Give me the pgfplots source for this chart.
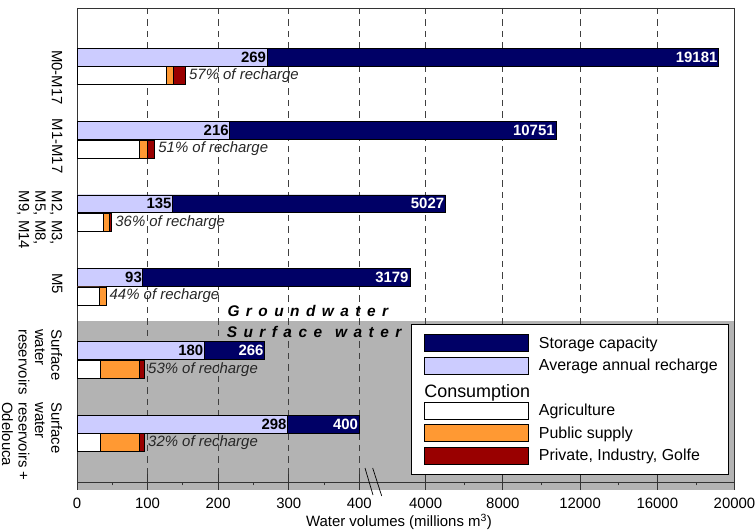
\documentclass[border=0pt]{standalone}
\usepackage{pgfplots}
\pgfplotsset{compat=1.18}
\usepackage{pgfplotstable}
\usepackage{fontspec}
\setmainfont{Liberation Sans}
\definecolor{navy}{RGB}{0,0,102}
\definecolor{lav}{RGB}{204,204,255}
\definecolor{orng}{RGB}{255,153,51}
\definecolor{dred}{RGB}{153,0,0}
\definecolor{bgray}{RGB}{179,179,179}
\newcommand\lsp{\hspace{6.45bp}}

% groundwater / surface water systems: storage capacity and average annual recharge (hm3)
\pgfplotstableread{
y stor rech
0 19181 269
1 10751 216
2 5027 135
3 3179 93
4 266 180
5 400 298
}\gw
% consumption: agriculture, public supply, private/industry/golf (hm3), percent of recharge
\pgfplotstableread{
y agri pub priv pct
0.255 126 10.5 17 57
1.255 88 11 11 51
2.255 37 9 3 36
3.255 31.6 9.3 0 44
4.255 33 55.4 7.1 53
5.255 33 55.4 7.1 32
}\cons

\pgfplotsset{
  legimg/.style={legend image code/.code={%
    \draw[##1, draw=black, line width=0.7bp] (0bp,-8.5bp) rectangle (104bp,8.5bp);
    \path[draw=none, fill=none] (-2bp,-11.25bp) rectangle (115bp,11.25bp);}},
  barbase/.style={xbar, bar width=0.245, bar shift=0pt, draw=black, line width=0.6bp, forget plot},
}

\begin{document}
\begin{tikzpicture}
\begin{axis}[
  set layers=standard,
  width=657.5bp, height=474bp, scale only axis,
  xmin=0, xmax=20000, ymin=-0.6676, ymax=5.790, y dir=reverse,
  x coord trafo/.code={\begingroup\pgfkeys{/pgf/fpu=true,/pgf/fpu/output format=fixed}\pgfmathparse{(#1<400.5) ? (#1) : (494.0+((#1)-4000)*0.02735)}\pgfmathsmuggle\pgfmathresult\endgroup},
  x coord inv trafo/.code={\begingroup\pgfkeys{/pgf/fpu=true,/pgf/fpu/output format=fixed}\pgfmathparse{(#1<400.5) ? (#1) : (4000+((#1)-494.0)/0.02735)}\pgfmathsmuggle\pgfmathresult\endgroup},
  xtick={0,100,200,300,400,4000,8000,12000,16000,20000},
  xticklabels={0,100,200,300,400,4000,8000,12000,16000,20000},
  minor xtick={50,150,250,350,6000,10000,14000,18000},
  xtick pos=bottom,
  tick align=center, major tick length=15bp, minor tick length=3.4bp,
  every minor tick/.append style={yshift=-1.7bp},
  xmajorgrids,
  major grid style={black!75, dash pattern=on 6.5bp off 5bp, line width=0.8bp},
  ytick={0.279,1.213,2.221,3.086,4.155,5.238},
  yticklabels={{M0-M17},{M1-M17},{M2, M3,\\M5, M8,\\M9, M14},{M5},{Surface\\water\\reservoirs},{Surface\\water\\reservoirs +\\Odelouca}},
  ytick style={draw=none},
  yticklabel style={rotate=-90, anchor=north, align=left, font=\fontsize{15}{16.5}\selectfont, inner sep=0pt},
  yticklabel shift=7bp,
  xticklabel style={font=\fontsize{15}{18}\selectfont, inner sep=0pt, anchor=north},
  xticklabel shift=8bp,
  xlabel={Water volumes (millions m\textsuperscript{3})},
  xlabel style={font=\fontsize{15}{18}\selectfont, at={(axis description cs:0.4897,0)}, anchor=north, inner sep=0pt, yshift=-32bp},
  axis line style={black!80, line width=0.9bp},
  every tick/.style={black!80, line width=0.8bp},
  legend style={at={(axis description cs:1,0)}, anchor=south east, xshift=-5.8bp, yshift=7.3bp,
    draw=black, line width=0.8bp, fill=white, inner xsep=10.6bp, inner ysep=7.4bp, row sep=0bp, column sep=0bp,
    font=\fontsize{16}{18}\selectfont, nodes={inner xsep=0bp, inner ysep=0bp}},
  legend cell align=left,
]
\begin{pgfonlayer}{axis background}
\fill[bgray] (axis cs:0,3.597) rectangle (axis cs:20000,5.9);
\end{pgfonlayer}

\addlegendimage{legimg, fill=navy}\addlegendentry{Storage capacity}
\addlegendimage{legimg, fill=lav}\addlegendentry{Average annual recharge}
\addlegendimage{legend image code/.code={%
  \path[draw=none, fill=none] (-2bp,-11.25bp) rectangle (115bp,11.25bp);
  \node[anchor=west, inner sep=0pt, draw=none, fill=none, text=black, font=\fontsize{18}{20}\selectfont] at (0bp,-3.9bp) {Consumption};}}\addlegendentry{}
\addlegendimage{legimg, fill=white}\addlegendentry{Agriculture}
\addlegendimage{legimg, fill=orng}\addlegendentry{Public supply}
\addlegendimage{legimg, fill=dred}\addlegendentry{Private, Industry, Golfe}

% storage capacity (dark) with recharge (light) on top
\addplot[barbase, fill=navy, point meta=explicit symbolic, nodes near coords,
  every node near coord/.append style={anchor=east, text=white, font=\bfseries\fontsize{15}{18}\selectfont, inner xsep=1bp}]
  table[x=stor, y=y, meta=stor]{\gw};
\addplot[barbase, fill=lav, point meta=explicit symbolic, nodes near coords,
  every node near coord/.append style={anchor=east, text=black, font=\bfseries\fontsize{15}{18}\selectfont, inner xsep=0.5bp}]
  table[x=rech, y=y, meta=rech]{\gw};

% consumption (segments overlaid: total, agriculture+public, agriculture)
\addplot[barbase, fill=dred, point meta=explicit symbolic, nodes near coords={\pgfplotspointmeta\% of recharge},
  every node near coord/.append style={anchor=west, text=black!85, font=\itshape\fontsize{15}{18}\selectfont, inner xsep=3.5bp}]
  table[x expr=\thisrow{agri}+\thisrow{pub}+\thisrow{priv}, y=y, meta=pct]{\cons};
\addplot[barbase, fill=orng] table[x expr=\thisrow{agri}+\thisrow{pub}, y=y]{\cons};
\addplot[barbase, fill=white] table[x=agri, y=y]{\cons};

\node[anchor=base west, inner sep=0pt, font=\fontsize{15.5}{18}\selectfont\bfseries\itshape] at (axis cs:213,3.538)
  {G\lsp r\lsp o\lsp u\lsp n\lsp d\lsp w\lsp a\lsp t\lsp e\lsp r};
\node[anchor=base west, inner sep=0pt, font=\fontsize{15.5}{18}\selectfont\bfseries\itshape] at (axis cs:212,3.819)
  {S\lsp u\lsp r\lsp f\lsp a\lsp c\lsp e\hspace{13bp}w\lsp a\lsp t\lsp e\lsp r};

\coordinate (ll) at (axis description cs:0,0);
\coordinate (ur) at (axis description cs:1,1);
\end{axis}
\draw[black, line width=0.7bp] ([shift={(288bp,14bp)}]ll) -- ([shift={(296bp,-13bp)}]ll);
\draw[black, line width=0.7bp] ([shift={(295.7bp,14bp)}]ll) -- ([shift={(304.7bp,-14bp)}]ll);
\pgfresetboundingbox
\path ([shift={(-77bp,-48bp)}]ll) rectangle ([shift={(20.5bp,8bp)}]ur);
\end{tikzpicture}
\end{document}
